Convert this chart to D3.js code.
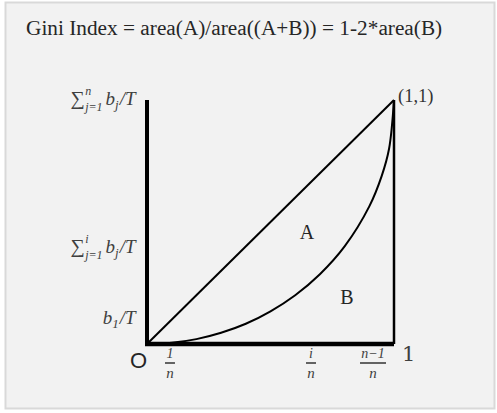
<!DOCTYPE html>
<html>
<head>
<meta charset="utf-8">
<script src="https://cdn.jsdelivr.net/npm/d3@7"></script>
<style>
body{margin:0;background:#fff;}
svg{display:block;}
.serif{font-family:"Liberation Serif","Times New Roman",serif;}
.math{font-family:"Liberation Serif","DejaVu Serif",serif;font-style:italic;fill:#404040;}
</style>
</head>
<body>
<div id="main"></div>
<script>
// lorenz curve (share of population vs share of income)
var popShare=[0,0.1,0.2,0.3,0.4,0.5,0.6,0.7,0.8,0.9,0.95,0.98,1];
var incShare=[0,0.005,0.02,0.046,0.083,0.134,0.2,0.286,0.4,0.564,0.688,0.8,1];
var xTickPos=[0.093,0.664,0.915];
var xTickNum=['1','i','n\u22121'];
var yTickPos=[1,0.4,0.1];
var titleText='Gini Index = area(A)/area((A+B)) = 1-2*area(B)';

var W=497,H=413;
var svg=d3.select('#main').append('svg').attr('width',W).attr('height',H);

svg.append('rect')
  .attr('x',5.5).attr('y',2.5).attr('width',489).attr('height',406)
  .attr('fill','#f2f2f2').attr('stroke','#d9d9d9').attr('stroke-width',2);

var x=d3.scaleLinear().domain([0,1]).range([147,394]);
var y=d3.scaleLinear().domain([0,1]).range([344,100]);

svg.append('text').attr('class','serif')
  .attr('x',26).attr('y',35).attr('font-size',21.3).attr('fill','#262626')
  .text(titleText);

// equality diagonal
svg.append('line')
  .attr('x1',x(0)).attr('y1',y(0)).attr('x2',x(1)).attr('y2',y(1))
  .attr('stroke','#000').attr('stroke-width',2);

// right edge
svg.append('line')
  .attr('x1',x(1)).attr('y1',y(1)).attr('x2',x(1)).attr('y2',y(0))
  .attr('stroke','#000').attr('stroke-width',2.5);

var pts=popShare.map(function(d,i){return [x(d),y(incShare[i])];});
svg.append('path')
  .attr('d',d3.line().curve(d3.curveCatmullRom)(pts))
  .attr('fill','none').attr('stroke','#000').attr('stroke-width',2);

// axes
svg.append('line')
  .attr('x1',x(0)).attr('y1',y(1)).attr('x2',x(0)).attr('y2',y(0)+2)
  .attr('stroke','#000').attr('stroke-width',4);
svg.append('line')
  .attr('x1',x(0)-2).attr('y1',y(0)).attr('x2',x(1)).attr('y2',y(0))
  .attr('stroke','#000').attr('stroke-width',4.5);

svg.append('text').attr('class','serif')
  .attr('x',x(1)+4).attr('y',y(1)+2).attr('font-size',18.5).attr('fill','#333')
  .text('(1,1)');

svg.append('text').attr('class','serif')
  .attr('x',307).attr('y',239).attr('font-size',20).attr('fill','#262626')
  .attr('text-anchor','middle').text('A');
svg.append('text').attr('class','serif')
  .attr('x',347).attr('y',304).attr('font-size',20).attr('fill','#262626')
  .attr('text-anchor','middle').text('B');

svg.append('text')
  .attr('x',x(0)).attr('y',y(0)+24).attr('font-size',22)
  .attr('font-family','Liberation Sans, Arial, sans-serif').attr('fill','#262626')
  .attr('text-anchor','end').text('O');

svg.append('text')
  .attr('x',x(1)+8).attr('y',y(0)+17).attr('font-size',21)
  .attr('font-family','DejaVu Serif, serif').attr('fill','#404040')
  .text('1');

// x tick fractions
var xt=svg.selectAll('g.xt').data(xTickPos).enter().append('g')
  .attr('class','xt').attr('transform',function(d){return 'translate('+x(d)+','+y(0)+')';});
xt.append('text').attr('class','math').attr('text-anchor','middle')
  .attr('y',14).attr('font-size',14)
  .text(function(d,i){return xTickNum[i];});
xt.append('line')
  .attr('x1',function(d,i){return i==2?-13:-5;})
  .attr('x2',function(d,i){return i==2?13:5;})
  .attr('y1',19).attr('y2',19).attr('stroke','#333').attr('stroke-width',1.5);
xt.append('text').attr('class','math').attr('text-anchor','middle')
  .attr('y',34).attr('font-size',15).text('n');

// y labels: pieces placed left to right, then right aligned to the axis
function piece(g,txt,px,py,fs,upright){
  var t=g.append('text').attr('class','math').attr('x',px).attr('y',py)
    .attr('font-size',fs).text(txt);
  if(upright) t.attr('font-style','normal').attr('font-family','DejaVu Serif, serif');
  return t.node().getComputedTextLength();
}
function rightAlign(g,xr){
  var bb=g.node().getBBox();
  g.attr('transform','translate('+(xr-bb.x-bb.width)+',0)');
}
function sumLabel(yy,top){
  var g=svg.append('g');
  var cx=0;
  var w=piece(g,'\u2211',cx,yy,20,true);
  cx+=w+0.5;
  piece(g,top,cx,yy-10,12);
  var w2=piece(g,'j=1',cx,yy+6,12);
  cx+=w2+3;
  var wb=piece(g,'b',cx,yy,19);
  cx+=wb;
  var wj=piece(g,'j',cx,yy+4,13);
  cx+=wj+1;
  piece(g,'/T',cx,yy,19);
  rightAlign(g,x(0)-10);
}
sumLabel(y(yTickPos[0])+5,'n');
sumLabel(y(yTickPos[1])+7,'i');

var g1=svg.append('g');
var cx1=0,yb=y(yTickPos[2])+4;
cx1+=piece(g1,'b',cx1,yb,19);
cx1+=piece(g1,'1',cx1,yb+4,13)+1;
piece(g1,'/T',cx1,yb,19);
rightAlign(g1,x(0)-10);
</script>
</body>
</html>
